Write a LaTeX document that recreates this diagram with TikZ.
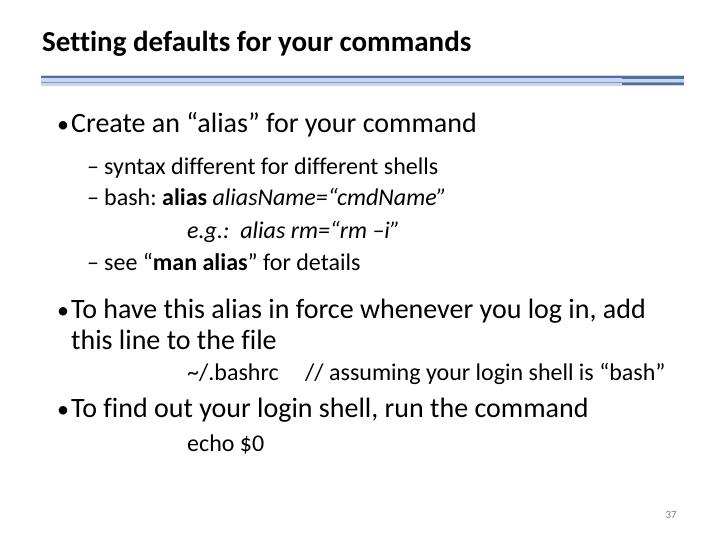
\documentclass[tikz,border=0pt]{standalone}
\usepackage{fontspec}
\setmainfont{Carlito}[Ligatures=NoCommon]
\usetikzlibrary{positioning}
\definecolor{rulelight}{RGB}{200,215,238}
\definecolor{ruledark}{RGB}{80,110,160}
\frenchspacing
\begin{document}
\begin{tikzpicture}[x=1pt,y=-1pt]
  \tikzstyle{title} = [anchor=base west, inner sep=0pt, font=\fontsize{29}{34}\selectfont\bfseries]
  \tikzstyle{bullet} = [anchor=base west, inner sep=0pt, font=\fontsize{28}{33}\selectfont]
  \tikzstyle{sub} = [anchor=base west, inner sep=0pt, font=\fontsize{24}{29}\selectfont]
  \useasboundingbox[fill=white] (0,0) rectangle (720,540);
  % title and rule
  \node[title] (head) at (42,52) {Setting defaults for your commands};
  \fill[rulelight] (41,75) rectangle (684,86);
  \draw[ruledark, line width=1.2pt] (41,77) -- (684,77);
  \draw[ruledark!70, line width=0.8pt] (41,82) -- (684,82);
  \draw[ruledark, line width=1.6pt] (622,78) -- (684,78);
  \draw[ruledark, line width=1.6pt] (622,84) -- (684,84);
  % first bullet
  \node[sub] (dotA) at (57,133) {•};
  \node[bullet] (itemA) at (71,133) {Create an “alias” for your command};
  \node[sub] (dashA) at (87,175) {–};
  \node[sub] (subA) at (104,175) {syntax different for different shells};
  \node[sub] (dashB) at (87,206) {–};
  \node[sub] (subB) at (104,206) {bash: \textbf{alias} \textit{aliasName=“cmdName”}};
  \node[sub] (subC) at (187,238) {\textit{e.g.:\ \ alias rm=“rm –i”}};
  \node[sub] (dashD) at (87,270) {–};
  \node[sub] (subD) at (104,270) {see “\textbf{man alias}” for details};
  % second bullet
  \node[sub] (dotB) at (57,318) {•};
  \node[bullet] (itemB) at (71,318) {To have this alias in force whenever you log in, add};
  \node[bullet] (itemB2) at (71,349) {this line to the file};
  \node[sub] (bashrc) at (187,380) {\textasciitilde/.bashrc};
  \node[sub] (note) at (305,380) {// assuming your login shell is “bash”};
  % third bullet
  \node[sub] (dotC) at (57,417) {•};
  \node[bullet] (itemC) at (71,417) {To find out your login shell, run the command};
  \node[sub] (echo) at (187,451) {echo \$0};
  \node[anchor=base east, inner sep=0pt, font=\fontsize{11}{13}\selectfont, text=gray] (page) at (677,518) {37};
\end{tikzpicture}
\end{document}
